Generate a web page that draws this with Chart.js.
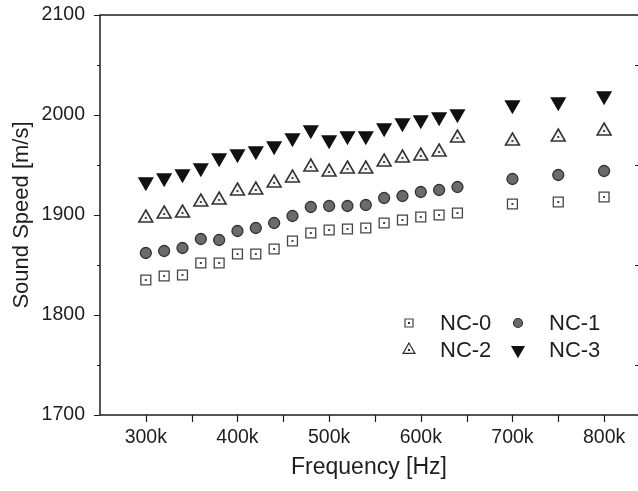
<!DOCTYPE html>
<html>
<head>
<meta charset="utf-8">
<script src="https://cdn.jsdelivr.net/npm/chart.js@4/dist/chart.umd.min.js"></script>
<style>
  html, body { margin: 0; padding: 0; background: #fff; overflow: hidden; }
  canvas { display: block; }
</style>
</head>
<body>
<canvas id="soundChart" width="638" height="491"></canvas>
<script>
// frequencies in kHz
const freqK = [300, 320, 340, 360, 380, 400, 420, 440, 460, 480, 500, 520, 540, 560, 580, 600, 620, 640, 700, 750, 800];
const nc0 = [1835, 1839, 1840, 1852, 1852, 1861, 1861, 1866, 1874, 1882, 1885, 1886, 1887, 1892, 1895, 1898, 1900, 1902, 1911, 1913, 1918];
const nc1 = [1862, 1864, 1867, 1876, 1875, 1884, 1887, 1892, 1899, 1908, 1909, 1909, 1910, 1917, 1919, 1923, 1925, 1928, 1936, 1940, 1944];
const nc2 = [1897, 1901, 1902, 1913, 1915, 1924, 1925, 1932, 1937, 1948, 1943, 1946, 1946, 1953, 1957, 1959, 1963, 1977, 1974, 1978, 1984];
const nc3 = [1933, 1937, 1941, 1947, 1957, 1961, 1964, 1969, 1977, 1985, 1975, 1979, 1979, 1987, 1992, 1995, 1998, 2001, 2010, 2013, 2019];
const xTickValues = [300000, 400000, 500000, 600000, 700000, 800000];

const INK = "#1e1e1e";
const FONT = "'Liberation Sans', Arial, sans-serif";

function toPoints(vals) {
  return vals.map((v, i) => ({ x: freqK[i] * 1000, y: v }));
}

const seriesStyle = [
  { label: "NC-0", data: nc0, pointStyle: "rect", pointRadius: 7, rotation: 0, fill: "#ffffff", border: "#444", bw: 1.3, dot: true },
  { label: "NC-1", data: nc1, pointStyle: "circle", pointRadius: 5.5, rotation: 0, fill: "#6b6b6b", border: "#333", bw: 1.3, dot: false },
  { label: "NC-2", data: nc2, pointStyle: "triangle", pointRadius: 8, rotation: 0, fill: "#f4f4f4", border: "#333", bw: 1.6, dot: true },
  { label: "NC-3", data: nc3, pointStyle: "triangle", pointRadius: 8, rotation: 180, fill: "#111111", border: "#111", bw: 1.3, dot: false }
];

const datasets = seriesStyle.map(s => ({
  label: s.label,
  data: toPoints(s.data),
  pointStyle: s.pointStyle,
  pointRadius: s.pointRadius,
  pointHoverRadius: s.pointRadius,
  rotation: s.rotation,
  backgroundColor: s.fill,
  borderColor: s.border,
  borderWidth: s.bw,
  showLine: false
}));

// small marker for the legend
function drawMarker(ctx, style, x, y, size) {
  ctx.save();
  ctx.fillStyle = style.fill;
  ctx.strokeStyle = style.border;
  ctx.lineWidth = 1.2;
  ctx.beginPath();
  if (style.pointStyle === "rect") {
    ctx.rect(x - size / 2, y - size / 2, size, size);
  } else if (style.pointStyle === "circle") {
    ctx.arc(x, y, size / 2, 0, Math.PI * 2);
  } else {
    const r = size / Math.sqrt(3);
    const dir = style.rotation ? 1 : -1;
    ctx.moveTo(x, y + dir * r);
    ctx.lineTo(x + size / 2, y - dir * r / 2);
    ctx.lineTo(x - size / 2, y - dir * r / 2);
    ctx.closePath();
  }
  ctx.fill();
  ctx.stroke();
  if (style.dot) {
    ctx.fillStyle = "#333";
    ctx.fillRect(x - 1, y - 1, 2, 2);
  }
  ctx.restore();
}

const framePlugin = {
  id: "frame",
  afterDatasetsDraw(chart) {
    const { ctx } = chart;
    // center dots inside the open markers
    chart.data.datasets.forEach((ds, i) => {
      if (!seriesStyle[i].dot) return;
      chart.getDatasetMeta(i).data.forEach(pt => {
        ctx.fillStyle = "#444";
        ctx.fillRect(pt.x - 1, pt.y - 1, 2, 2);
      });
    });
  },
  afterDraw(chart) {
    const { ctx, chartArea: a, scales: { x, y } } = chart;
    ctx.save();
    ctx.strokeStyle = INK;
    ctx.lineWidth = 1.5;
    ctx.beginPath();
    ctx.moveTo(a.right, a.top);
    ctx.lineTo(a.left, a.top);
    ctx.lineTo(a.left, a.bottom);
    ctx.lineTo(a.right, a.bottom);
    ctx.stroke();

    ctx.lineWidth = 1.2;
    ctx.beginPath();
    for (let v = 300000; v <= x.max; v += 50000) {
      const px = Math.round(x.getPixelForValue(v)) + 0.5;
      ctx.moveTo(px, a.bottom);
      ctx.lineTo(px, a.bottom + 7);
    }
    for (let v = y.min; v <= y.max; v += 50) {
      const py = Math.round(y.getPixelForValue(v)) + 0.5;
      const major = v % 100 === 0;
      ctx.moveTo(a.left, py);
      ctx.lineTo(a.left - (major ? 6 : 3), py);
      if (!major) {
        ctx.moveTo(a.right, py);
        ctx.lineTo(a.right - 3, py);
      }
    }
    ctx.stroke();

    // legend, two columns
    ctx.font = "22px " + FONT;
    ctx.fillStyle = INK;
    ctx.textBaseline = "middle";
    const legendLeft = a.right - 229;
    const colGap = 109;
    const rowTop = a.top + 308;
    const rowGap = 27;
    seriesStyle.forEach((s, i) => {
      const cx = legendLeft + (i % 2) * colGap;
      const cy = rowTop + Math.floor(i / 2) * rowGap;
      const size = s.pointStyle === "rect" ? 8 : s.pointStyle === "circle" ? 9 : 12;
      drawMarker(ctx, s, cx, cy, size);
      ctx.fillText(s.label, cx + 31, cy + 1);
    });
    ctx.restore();
  }
};

new Chart(document.getElementById("soundChart"), {
  type: "scatter",
  data: { datasets },
  options: {
    responsive: false,
    animation: false,
    layout: { autoPadding: false, padding: { top: 15, right: 0, left: 0, bottom: 0 } },
    plugins: {
      legend: { display: false },
      tooltip: { enabled: false }
    },
    scales: {
      x: {
        type: "linear",
        min: 250000,
        max: 837000,
        afterBuildTicks: scale => { scale.ticks = xTickValues.map(v => ({ value: v })); },
        afterFit: scale => {
          scale.height = 76;
          scale.paddingLeft = 0;
          scale.paddingRight = 0;
        },
        grid: { display: false, drawTicks: false },
        border: { display: false },
        ticks: {
          padding: 11,
          color: INK,
          font: { family: FONT, size: 19.5 },
          maxRotation: 0,
          callback: v => (v / 1000) + "k"
        },
        title: {
          display: true,
          text: "Frequency [Hz]",
          color: INK,
          font: { family: FONT, size: 23 },
          padding: { top: 0, bottom: 10 }
        }
      },
      y: {
        min: 1700,
        max: 2100,
        afterFit: scale => {
          scale.width = 100;
          scale.paddingTop = 0;
          scale.paddingBottom = 0;
        },
        grid: { display: false, drawTicks: false },
        border: { display: false },
        ticks: {
          stepSize: 100,
          padding: 15,
          color: INK,
          font: { family: FONT, size: 19.5 },
          callback: v => String(v)
        },
        title: {
          display: true,
          text: "Sound Speed [m/s]",
          color: INK,
          font: { family: FONT, size: 22 },
          padding: { top: 9, bottom: 0 }
        }
      }
    }
  },
  plugins: [framePlugin]
});
</script>
</body>
</html>
